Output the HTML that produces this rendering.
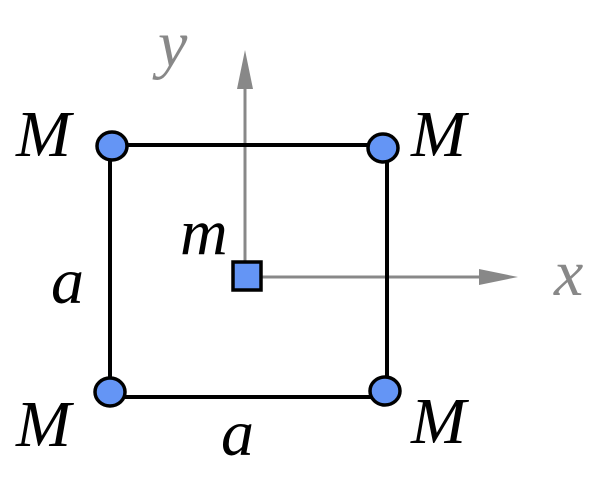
<!DOCTYPE html>
<html><head><meta charset="utf-8"><style>html,body{margin:0;padding:0;background:#fff}svg{display:block}</style></head>
<body>
<svg width="602" height="482" viewBox="0 0 602 482" xmlns="http://www.w3.org/2000/svg">
<g style="font-family:'Liberation Serif',serif;font-style:italic" font-size="66">
<line x1="245" y1="276" x2="245" y2="86" stroke="#888" stroke-width="3"/>
<polygon points="245,50 237,89 253,89" fill="#888"/>
<line x1="245" y1="277" x2="482" y2="277" stroke="#888" stroke-width="3"/>
<polygon points="518,277 479,269 479,285" fill="#888"/>
<line x1="111" y1="145" x2="385" y2="145" stroke="#000" stroke-width="4"/>
<line x1="110" y1="145" x2="110" y2="393" stroke="#000" stroke-width="4"/>
<line x1="387" y1="148" x2="387" y2="392" stroke="#000" stroke-width="4"/>
<line x1="110" y1="397" x2="385" y2="397" stroke="#000" stroke-width="4"/>
<g fill="#6495f5" stroke="#000" stroke-width="3.5">
<ellipse cx="112" cy="146" rx="15" ry="14"/>
<ellipse cx="383" cy="148" rx="15" ry="14"/>
<ellipse cx="110" cy="392" rx="15" ry="14"/>
<ellipse cx="385" cy="391" rx="15" ry="14"/>
<rect x="233" y="262" width="28" height="28"/>
</g>
<text x="16" y="156">M</text>
<text x="411" y="156">M</text>
<text x="16" y="446">M</text>
<text x="411" y="443">M</text>
<text x="51" y="303">a</text>
<text x="221" y="455">a</text>
<text x="180" y="254">m</text>
<text x="158" y="66" fill="#888">y</text>
<text x="554" y="295" fill="#888">x</text>
</g>
</svg>
</body></html>
